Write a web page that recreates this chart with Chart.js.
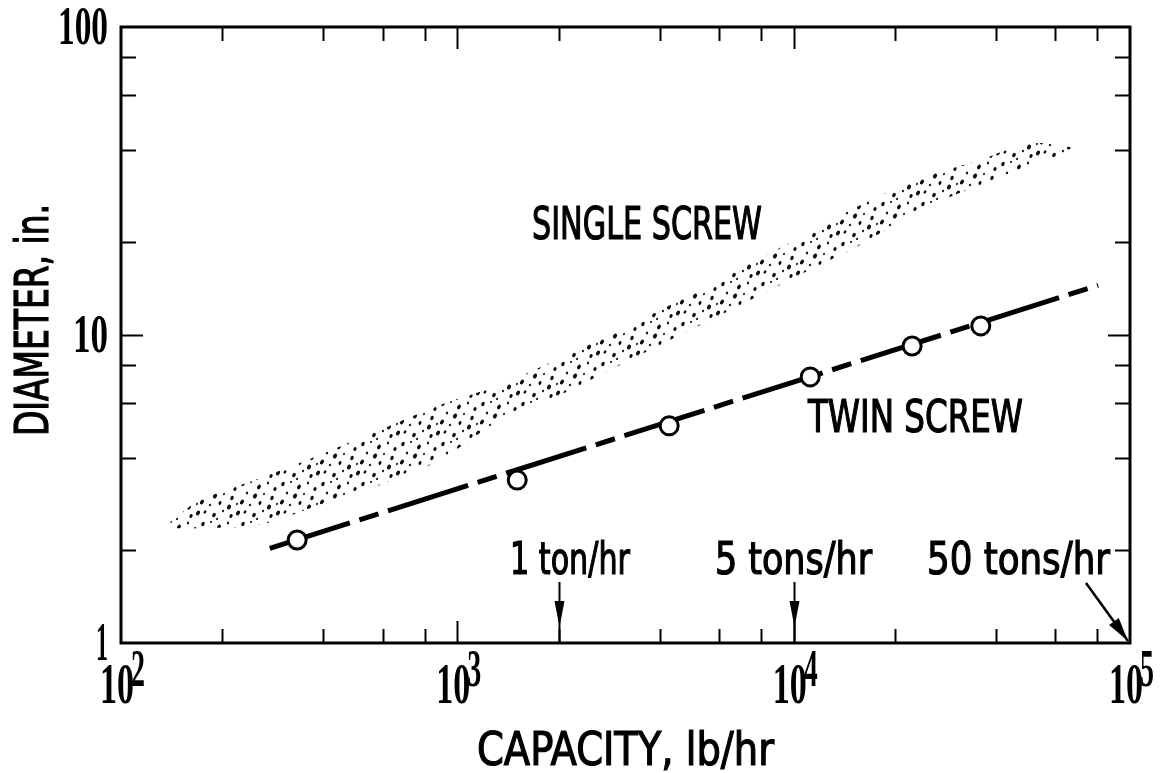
<!DOCTYPE html>
<html>
<head>
<meta charset="utf-8">
<script src="https://cdn.jsdelivr.net/npm/chart.js@4.4.1/dist/chart.umd.min.js"></script>
<style>
html, body { margin: 0; padding: 0; background: #fff; }
#wrap { position: relative; width: 1163px; height: 773px; }
</style>
</head>
<body>
<div id="wrap"><canvas id="chart"></canvas></div>
<script>
// twin screw: measured points and the dashed trend line
const twinCapacity = [334, 1507, 4265, 11200, 22500, 36000];
const twinDiameter = [2.16, 3.38, 5.07, 7.31, 9.21, 10.7];
const twinLineCapacity = [277, 80400];
const twinLineDiameter = [2.03, 14.5];

// single screw: stippled band, upper and lower edge
const singleCapacity = [140, 172, 259, 390, 589, 888, 1340, 2020, 3046, 4594, 6928, 10440, 15760, 23760, 35830, 50470, 68680];
const singleUpper = [2.47, 2.91, 3.43, 4.08, 4.92, 5.93, 6.88, 8.42, 10.4, 13.0, 16.5, 20.7, 26.4, 32.3, 37.0, 42.0, 40.5];
const singleLower = [2.36, 2.36, 2.42, 2.81, 3.26, 3.93, 5.30, 6.38, 7.99, 10.0, 12.5, 15.7, 19.6, 25.5, 30.7, 35.6, 39.9];

// axes
const xMajorTicks = [100, 1000, 10000, 100000];
const xTickExponents = ['2', '3', '4', '5'];
const yMajorTicks = [1, 10, 100];
const yTickLabels = ['1', '10', '100'];
const minorSteps = [2, 4, 6, 8];

// throughput marks on the capacity axis
const rateCapacity = [2000, 10000, 100000];
const rateLabels = ['1 ton/hr', '5 tons/hr', '50 tons/hr'];

const SANS = '"Liberation Sans Narrow", "DejaVu Sans Condensed", sans-serif';
const SERIF = '"Liberation Serif", "DejaVu Serif", serif';

function pts(xs, ys) {
    return xs.map((v, i) => ({ x: v, y: ys[i] }));
}

// stipple texture for the single screw band
function stipple() {
    const c = document.createElement('canvas');
    c.width = 40; c.height = 40;
    const g = c.getContext('2d');
    const dots = [
        [3, 4, 1.6], [11, 2, 0.9], [19, 7, 1.8], [28, 3, 1.1], [35, 9, 1.5],
        [7, 13, 1.1], [15, 16, 1.9], [24, 14, 0.9], [32, 18, 1.6], [2, 22, 1.8],
        [10, 25, 1.0], [20, 23, 1.4], [29, 27, 1.9], [37, 24, 0.9], [5, 32, 1.3],
        [14, 35, 1.7], [23, 31, 1.0], [31, 36, 1.5], [38, 33, 1.8], [17, 39, 0.9]
    ];
    g.fillStyle = '#111';
    dots.forEach(([x, y, r]) => {
        g.beginPath();
        g.ellipse(x, y, r, r * 1.4, 0.5, 0, Math.PI * 2);
        g.fill();
    });
    return g.createPattern(c, 'repeat');
}

// text squeezed to a given width; a thin outline gives a medium weight
function squeeze(ctx, text, x, y, width, font, align, weight) {
    ctx.font = font;
    ctx.textAlign = align || 'left';
    ctx.textBaseline = 'alphabetic';
    ctx.fillText(text, x, y, width);
    if (weight) {
        ctx.lineWidth = weight;
        ctx.strokeText(text, x, y, width);
    }
}

function arrowHead(ctx, tx, ty, dx, dy, len, half) {
    const n = Math.hypot(dx, dy);
    const ux = dx / n, uy = dy / n;
    const bx = tx - ux * len, by = ty - uy * len;
    ctx.beginPath();
    ctx.moveTo(tx, ty);
    ctx.lineTo(bx - uy * half, by + ux * half);
    ctx.lineTo(bx + uy * half, by - ux * half);
    ctx.closePath();
    ctx.fill();
}

const framePlugin = {
    id: 'frame',
    afterDraw(chart) {
        const { ctx, chartArea: a, scales: { x, y } } = chart;
        ctx.save();
        ctx.strokeStyle = '#000';
        ctx.fillStyle = '#000';

        // box
        ctx.lineWidth = 3;
        ctx.strokeRect(a.left, a.top, a.right - a.left, a.bottom - a.top);

        // inward ticks on all four sides
        ctx.lineWidth = 2;
        ctx.beginPath();
        xMajorTicks.slice(0, -1).forEach((d, i) => {
            const list = minorSteps.map(m => [d * m, 14]);
            if (i > 0) list.push([d, 22]);
            list.forEach(([v, len]) => {
                const px = Math.round(x.getPixelForValue(v)) + 0.5;
                ctx.moveTo(px, a.bottom); ctx.lineTo(px, a.bottom - len);
                ctx.moveTo(px, a.top); ctx.lineTo(px, a.top + len);
            });
        });
        yMajorTicks.slice(0, -1).forEach((d, i) => {
            const list = minorSteps.map(m => [d * m, 15]);
            if (i > 0) list.push([d, 22]);
            list.forEach(([v, len]) => {
                const py = Math.round(y.getPixelForValue(v)) + 0.5;
                ctx.moveTo(a.left, py); ctx.lineTo(a.left + len, py);
                ctx.moveTo(a.right, py); ctx.lineTo(a.right - len, py);
            });
        });
        ctx.stroke();

        // tick labels
        yMajorTicks.forEach((v, i) => {
            const py = y.getPixelForValue(v);
            const w = [12, 35, 50][i];
            squeeze(ctx, yTickLabels[i], a.left - 13, py + 17, w, 'bold 54px ' + SERIF, 'right');
        });
        xMajorTicks.forEach((v, i) => {
            const px = x.getPixelForValue(v);
            squeeze(ctx, '10', px - 4, a.bottom + 60, 34, 'bold 56px ' + SERIF, 'center');
            squeeze(ctx, xTickExponents[i], px + 10, a.bottom + 43, 14, 'bold 52px ' + SERIF, 'left');
        });

        // axis titles
        squeeze(ctx, 'CAPACITY, lb/hr', (a.left + a.right) / 2, a.bottom + 122, 297, '46px ' + SANS, 'center', 1.2);
        ctx.save();
        ctx.translate(48, 320);
        ctx.rotate(-Math.PI / 2);
        squeeze(ctx, 'DIAMETER, in.', 0, 0, 232, '46px ' + SANS, 'center', 1.2);
        ctx.restore();

        // series labels
        squeeze(ctx, 'SINGLE SCREW', 532, 239, 230, '44px ' + SANS, 'left', 1.2);
        squeeze(ctx, 'TWIN SCREW', 808, 432, 215, '44px ' + SANS, 'left', 1.2);

        // throughput marks
        const labelLeft = [510, 715, 927];
        const labelWidth = [120, 157, 183];
        rateCapacity.forEach((v, i) => {
            squeeze(ctx, rateLabels[i], labelLeft[i], 574, labelWidth[i], '44px ' + SANS, 'left', 1.2);
        });
        ctx.lineWidth = 2;
        rateCapacity.slice(0, 2).forEach(v => {
            const px = Math.round(x.getPixelForValue(v)) + 0.5;
            ctx.beginPath();
            ctx.moveTo(px, 582); ctx.lineTo(px, a.bottom);
            ctx.stroke();
            arrowHead(ctx, px, 627, 0, 1, 26, 5);
        });
        const tx = x.getPixelForValue(rateCapacity[2]) - 2, ty = a.bottom - 2;
        ctx.lineWidth = 2.5;
        ctx.beginPath();
        ctx.moveTo(tx - 42, 583); ctx.lineTo(tx, ty);
        ctx.stroke();
        arrowHead(ctx, tx, ty, 42, ty - 583, 24, 6);

        ctx.restore();
    }
};

new Chart(document.getElementById('chart'), {
    type: 'line',
    data: {
        datasets: [
            {
                label: 'Twin screw',
                data: pts(twinCapacity, twinDiameter),
                showLine: false,
                pointRadius: 9,
                pointBorderWidth: 3,
                pointBorderColor: '#000',
                pointBackgroundColor: '#fff'
            },
            {
                label: 'Twin screw trend',
                data: pts(twinLineCapacity, twinLineDiameter),
                borderColor: '#000',
                borderWidth: 5,
                borderDash: [84, 10, 20, 10],
                pointRadius: 0,
                fill: false
            },
            {
                label: 'Single screw upper',
                data: pts(singleCapacity, singleUpper),
                borderWidth: 0,
                borderColor: 'rgba(0,0,0,0)',
                backgroundColor: stipple(),
                pointRadius: 0,
                tension: 0.3,
                fill: '+1'
            },
            {
                label: 'Single screw lower',
                data: pts(singleCapacity, singleLower),
                borderWidth: 0,
                borderColor: 'rgba(0,0,0,0)',
                pointRadius: 0,
                tension: 0.3,
                fill: false
            }
        ]
    },
    options: {
        responsive: true,
        maintainAspectRatio: false,
        animation: false,
        layout: { padding: { left: 121, right: 33, top: 27, bottom: 130 } },
        scales: {
            x: { type: 'logarithmic', min: 100, max: 100000, display: false },
            y: { type: 'logarithmic', min: 1, max: 100, display: false }
        },
        plugins: {
            legend: { display: false },
            tooltip: { enabled: false }
        }
    },
    plugins: [framePlugin]
});
</script>
</body>
</html>
